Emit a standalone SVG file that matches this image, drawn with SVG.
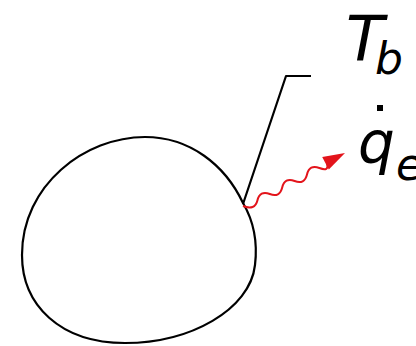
<svg xmlns="http://www.w3.org/2000/svg" width="416" height="346" viewBox="0 0 416 346">
<style>
.ln{fill:none;stroke:#000;stroke-width:2.2;stroke-linejoin:round}
.red{fill:none;stroke:#e3141b;stroke-width:2}
.t{font-family:"DejaVu Sans",Verdana,sans-serif;font-style:italic;fill:#000}
</style>
<rect width="416" height="346" fill="#fff"/>
<g id="body">
<path class="ln" d="M243,203 C253,220 258,240 255,265 C250,310 190,343 125,343 C60,343 22,305 22,255 C22,185 85,137 145,137 C190,137 225,165 243,203 Z"/>
</g>
<g id="connectors">
<polyline class="ln" points="243,204 286,76 311,76"/>
<path class="red" d="M243,206 Q254.9,210.8 257.4,200.5 T269.8,194 T282.2,187.5 T294.6,181 T307,174.5 T319.4,168 T327,163.5"/>
<polygon points="345,153 322.2,157 328.8,169.4" fill="#e3141b"/>
</g>
<g id="label-Tb">
<text class="t" x="346" y="60" font-size="62">T</text>
<text class="t" x="375" y="74" font-size="44">b</text>
</g>
<g id="label-qe">
<rect x="377" y="105" width="6" height="6" fill="#000"/>
<text class="t" x="358" y="163" font-size="58">q</text>
<text class="t" x="396" y="180" font-size="44">e</text>
</g>
</svg>
